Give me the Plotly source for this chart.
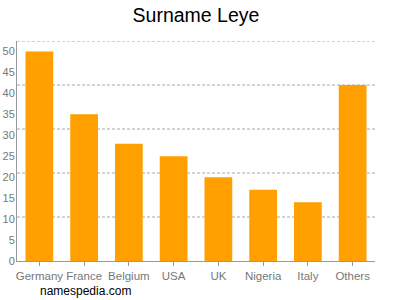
import plotly.graph_objects as go

categories = ["Germany", "France", "Belgium", "USA", "UK", "Nigeria", "Italy", "Others"]
values = [50, 35, 28, 25, 20, 17, 14, 42]
y_ticks = [0, 5, 10, 15, 20, 25, 30, 35, 40, 45, 50]

ymax = 52.5
fig = go.Figure(go.Bar(x=categories, y=values, marker=dict(color="#ffa000", line=dict(width=0)), width=0.62))

shapes = []
for i in range(1, 6):
    yv = ymax * i / 5
    shapes.append(dict(type="line", xref="paper", yref="y", x0=0, x1=1, y0=yv, y1=yv,
                       line=dict(color="#aaaaaa", width=1, dash="3px,2px"), layer="below"))

fig.update_layout(
    width=400, height=300,
    margin=dict(l=17, r=25, t=41, b=39, autoexpand=False),
    paper_bgcolor="white", plot_bgcolor="white",
    font=dict(family="Liberation Sans, Arial, sans-serif", size=11, color="#777"),
    title=dict(text="Surname Leye", x=0.49, xanchor="center", y=0.95, yanchor="middle",
               font=dict(size=19.5, color="#000")),
    showlegend=False,
    shapes=shapes,
    xaxis=dict(showline=True, linecolor="#999", linewidth=1, ticks="outside", ticklen=4,
               tickcolor="#999", tickfont=dict(size=11.5, color="#777"), fixedrange=True,
               automargin=False),
    yaxis=dict(range=[0, ymax], tickvals=y_ticks, showgrid=False, showline=True, linecolor="#999",
               linewidth=1, ticks="", ticklabelstandoff=-1,
               tickfont=dict(size=11, color="#777"), zeroline=False, fixedrange=True,
               automargin=False),
    annotations=[dict(text="namespedia.com", xref="paper", yref="paper", x=0, y=-0.136,
                      xanchor="left", yanchor="middle", xshift=21, showarrow=False,
                      font=dict(size=12, color="#000"))],
)

fig.write_html("out.html")
